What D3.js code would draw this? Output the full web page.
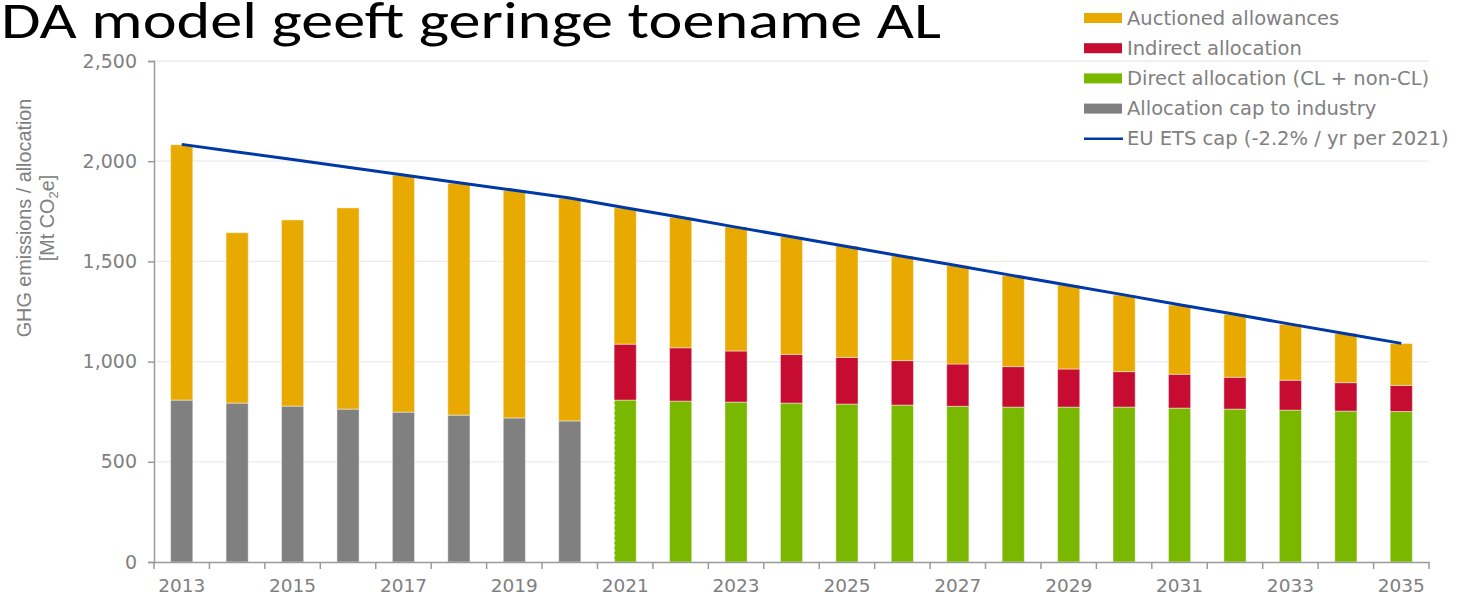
<!DOCTYPE html>
<html>
<head>
<meta charset="utf-8">
<script src="https://d3js.org/d3.v7.min.js"></script>
<style>
  body { margin: 0; background: #fff; }
  svg { display: block; }
</style>
</head>
<body>
<svg id="chart" width="1468" height="596"></svg>
<script>
// values (Mt CO2e)
var years = d3.range(2013, 2036);
var allocCap  = [808, 793, 778, 763, 748, 733, 719, 704, 0, 0, 0, 0, 0, 0, 0, 0, 0, 0, 0, 0, 0, 0, 0];
var directAl  = [0, 0, 0, 0, 0, 0, 0, 0, 808, 803, 798, 793, 788, 783, 777, 773, 773, 773, 768, 763, 758, 753, 751];
var indirectAl = [0, 0, 0, 0, 0, 0, 0, 0, 279, 266, 255, 243, 233, 222, 211, 202, 190, 177, 169, 159, 149, 142, 130];
var auctioned = [1274, 850, 929, 1004, 1182, 1157, 1135, 1111, 680, 651, 619, 587, 556, 522, 491, 454, 419, 382, 345, 314, 279, 246, 209];
var etsCap = [2084, 2046, 2008, 1970, 1931, 1893, 1855, 1816, 1768, 1720, 1671, 1623, 1574, 1526, 1478, 1429, 1381, 1333, 1284, 1236, 1187, 1139, 1091];
var yTicks = [0, 500, 1000, 1500, 2000, 2500];

var keys = ["alloc", "direct", "indirect", "auction"];
var colors = {alloc: "#808080", direct: "#7ab800", indirect: "#c60c30", auction: "#e8aa00"};
var legendItems = [
  {key: "auction", label: "Auctioned allowances"},
  {key: "indirect", label: "Indirect allocation"},
  {key: "direct", label: "Direct allocation (CL + non-CL)"},
  {key: "alloc", label: "Allocation cap to industry"},
  {key: "line", label: "EU ETS cap (-2.2% / yr per 2021)"}
];

var rows = years.map(function(yr, i){
  return {year: yr, alloc: allocCap[i], direct: directAl[i], indirect: indirectAl[i], auction: auctioned[i], cap: etsCap[i]};
});

var svg = d3.select("#chart");
var plotL = 154, plotR = 1429, plotT = 61, plotB = 562;
var txtCol = "#808080";
var font = "'DejaVu Sans', Verdana, sans-serif";

var x = d3.scaleBand().domain(years).range([plotL, plotR]).paddingInner(0.6).paddingOuter(0.3);
var y = d3.scaleLinear().domain([0, 2500]).range([plotB, plotT]);

// gridlines
svg.append("g").selectAll("line")
  .data(yTicks.filter(function(d){ return d > 0; }))
  .enter().append("line")
  .attr("x1", plotL).attr("x2", plotR)
  .attr("y1", function(d){ return y(d); }).attr("y2", function(d){ return y(d); })
  .attr("stroke", "#ececec").attr("stroke-width", 1.3);

// title (top is cut by the slide edge, as in the original)
svg.append("text")
  .attr("x", 1).attr("y", 38)
  .attr("font-family", "Carlito, 'Open Sans', sans-serif")
  .attr("font-size", 51)
  .attr("textLength", 940).attr("lengthAdjust", "spacingAndGlyphs")
  .attr("fill", "#000")
  .text("DA model geeft geringe toename AL");

// stacked bars
var stacked = d3.stack().keys(keys)(rows);
svg.append("g").selectAll("g")
  .data(stacked).enter().append("g")
  .attr("fill", function(d){ return colors[d.key]; })
  .selectAll("rect")
  .data(function(d){ return d.filter(function(p){ return p[1] - p[0] > 0; }); })
  .enter().append("rect")
  .attr("x", function(d){ return x(d.data.year); })
  .attr("width", x.bandwidth())
  .attr("y", function(d){ return y(d[1]); })
  .attr("height", function(d){ return y(d[0]) - y(d[1]); })
  .attr("stroke", "rgba(255,255,255,0.45)").attr("stroke-width", 1);

// faint dashed marker at the start of the new period
svg.append("line")
  .attr("x1", x(2021) + 0.5).attr("x2", x(2021) + 0.5)
  .attr("y1", y(0)).attr("y2", y(directAl[years.indexOf(2021)]))
  .attr("stroke", "#e4f0c8").attr("stroke-width", 1).attr("stroke-dasharray", "3,2");

// EU ETS cap line
var capLine = d3.line()
  .x(function(d){ return x(d.year) + x.bandwidth() / 2; })
  .y(function(d){ return y(d.cap); });
svg.append("path")
  .datum(rows)
  .attr("d", capLine)
  .attr("fill", "none").attr("stroke", "#0038a8").attr("stroke-width", 3);

// y axis
var yAxis = svg.append("g")
  .attr("transform", "translate(" + plotL + ",0)")
  .call(d3.axisLeft(y).tickValues(yTicks).tickFormat(d3.format(",")).tickSize(6).tickPadding(11));
yAxis.select(".domain").attr("stroke", "#9a9a9a").attr("stroke-width", 1.5);
yAxis.selectAll(".tick line").attr("stroke", "#9a9a9a").attr("stroke-width", 1.5);
yAxis.selectAll(".tick text").attr("fill", txtCol).attr("font-family", font).attr("font-size", 19);

// x axis
var xAxis = svg.append("g")
  .attr("transform", "translate(0," + plotB + ")")
  .call(d3.axisBottom(x).tickSizeOuter(0).tickSize(0).tickPadding(17)
    .tickFormat(function(d, i){ return i % 2 === 0 ? d : ""; }));
xAxis.select(".domain").attr("stroke", "#9a9a9a").attr("stroke-width", 1.5);
xAxis.selectAll(".tick text").attr("fill", txtCol).attr("font-family", font).attr("font-size", 18.5);
// ticks sit on the category boundaries
xAxis.append("g").selectAll("line")
  .data(d3.range(years.length + 1))
  .enter().append("line")
  .attr("x1", function(i){ return plotL + i * x.step(); })
  .attr("x2", function(i){ return plotL + i * x.step(); })
  .attr("y1", 0).attr("y2", 7)
  .attr("stroke", "#9a9a9a").attr("stroke-width", 1.5);

// y axis title
var yLab = svg.append("text")
  .attr("transform", "translate(0,218) rotate(-90)")
  .attr("text-anchor", "middle")
  .attr("font-family", "'Liberation Sans', Arial, sans-serif")
  .attr("font-size", 19.8)
  .attr("fill", txtCol);
yLab.append("tspan").attr("x", 0).attr("y", 31).text("GHG emissions / allocation");
var l2 = yLab.append("tspan").attr("x", 0).attr("y", 54);
l2.append("tspan").text("[Mt CO");
l2.append("tspan").attr("font-size", 13).attr("dy", 4).text("2");
l2.append("tspan").attr("dy", -4).text("e]");

// legend
var lg = svg.append("g").attr("transform", "translate(1084,18)");
var li = lg.selectAll("g").data(legendItems).enter().append("g")
  .attr("transform", function(d, i){ return "translate(0," + (i * 30.2) + ")"; });
li.filter(function(d){ return d.key !== "line"; }).append("rect")
  .attr("x", 0).attr("y", -5).attr("width", 38).attr("height", 10)
  .attr("fill", function(d){ return colors[d.key]; });
li.filter(function(d){ return d.key === "line"; }).append("line")
  .attr("x1", 0).attr("x2", 39).attr("y1", 0).attr("y2", 0)
  .attr("stroke", "#0038a8").attr("stroke-width", 2.5);
li.append("text")
  .attr("x", 43).attr("y", 6.5)
  .attr("font-family", font).attr("font-size", 19.5)
  .attr("fill", txtCol)
  .text(function(d){ return d.label; });
</script>
</body>
</html>
